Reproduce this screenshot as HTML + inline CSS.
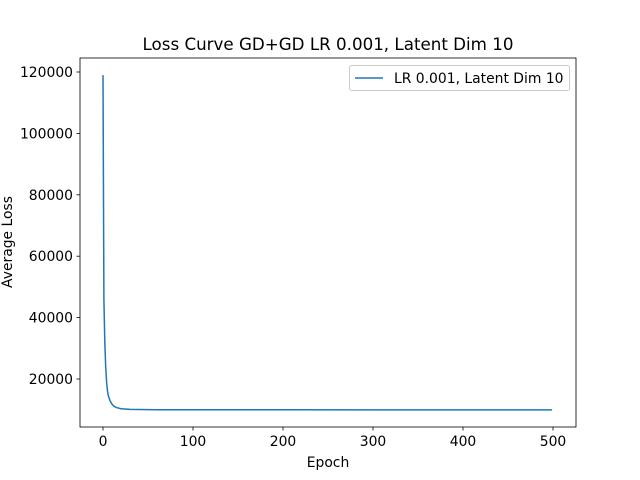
<!DOCTYPE html>
<html><head><meta charset="utf-8"><style>
body{margin:0;background:#fff;}
svg{display:block;font-family:"DejaVu Sans","Liberation Sans",sans-serif;}
</style></head><body>
<svg id="c" width="640" height="480" xmlns="http://www.w3.org/2000/svg">
<rect width="640" height="480" fill="#fff"/>
<text x="328" y="50" font-size="16.7" text-anchor="middle">Loss Curve GD+GD LR 0.001, Latent Dim 10</text>
<g id="ticks"></g>
<path id="line" fill="none" stroke="#1f77b4" stroke-width="1.5"/>
<rect x="80" y="58" width="496" height="369" fill="none" stroke="#000" stroke-width="0.8"/>
<text x="328" y="467" font-size="13.9" text-anchor="middle">Epoch</text>
<text transform="translate(8,242) rotate(-90)" font-size="13.9" text-anchor="middle" dominant-baseline="central">Average Loss</text>
<g>
<rect x="349.5" y="65.5" width="220" height="25" rx="2" fill="#fff" stroke="#ccc"/>
<line x1="355" y1="78" x2="383" y2="78" stroke="#1f77b4" stroke-width="1.5"/>
<text x="394" y="83" font-size="13.9">LR 0.001, Latent Dim 10</text>
</g>
</svg>
<script>
const epochs=[0,1,2,3,4,5,6,8,10,12,15,20,30,40,60,100,200,300,400,499];
const losses=[119000,46000,32000,24000,19000,16000,14500,12800,11800,11200,10700,10300,10100,10050,10000,9980,9970,9960,9960,9960];
const xTicks=[0,100,200,300,400,500];
const yTicks=[20000,40000,60000,80000,100000,120000];
const X=v=>103+v*0.9;
const Y=v=>379-(v-20000)*307/100000;
const NS="http://www.w3.org/2000/svg";
const g=document.getElementById('ticks');
function mk(t,a){const e=document.createElementNS(NS,t);for(const k in a)e.setAttribute(k,a[k]);g.appendChild(e);return e;}
xTicks.forEach(v=>{
 const l=mk('line',{x1:X(v),x2:X(v),y1:427,y2:430.5,stroke:'#000','stroke-width':0.8});
 
 
 const t=mk('text',{x:X(v),y:446,'font-size':13.9,'text-anchor':'middle'});t.textContent=v;
 
 
});
yTicks.forEach(v=>{
 const l=mk('line',{x1:76.5,x2:80,y1:Y(v),y2:Y(v),stroke:'#000','stroke-width':0.8});
 
 
 const t=mk('text',{x:73,y:Y(v)+5,'font-size':13.9,'text-anchor':'end'});t.textContent=v;
 
 
});
document.getElementById('line').setAttribute('d',epochs.map((e,i)=>(i?'L':'M')+X(e).toFixed(2)+','+Y(losses[i]).toFixed(2)).join(''));
</script>
</body></html>
